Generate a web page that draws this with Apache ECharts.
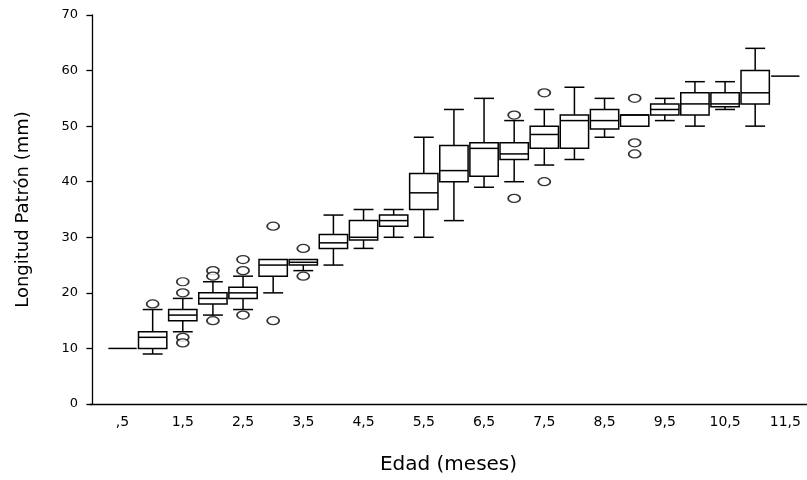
<!DOCTYPE html>
<html>
<head>
<meta charset="utf-8">
<script src="https://cdn.jsdelivr.net/npm/echarts@6/dist/echarts.min.js"></script>
<style>html,body{margin:0;padding:0;background:#fff;}#c{width:807px;height:480px;}</style>
</head>
<body>
<div id="c"></div>
<script>
// Age categories (months)
const ages = [0.5,1,1.5,2,2.5,3,3.5,4,4.5,5,5.5,6,6.5,7,7.5,8,8.5,9,9.5,10,10.5,11,11.5];
// Box statistics (mm)
const whiskerLow  = [10, 9,13,16,17,20,24,25,28,30,30,33,39,40,43,44,48,50,51,50,53,50,59];
const quart1      = [10,10,15,18,19,23,25,28,29.5,32,35,40,41,44,46,46,49.5,50,52,52,53.5,54,59];
const medians     = [10,12,16,19,20,25,25.5,29,30,33,38,42,46,45,48.5,51,51,52,53,54,54,56,59];
const quart3      = [10,13,17,20,21,26,26,30.5,33,34,41.5,46.5,47,47,50,52,53,52,54,56,56,60,59];
const whiskerHigh = [10,17,19,22,23,26,26,34,35,35,48,53,55,51,53,57,55,52,55,58,58,64,59];
// Outliers [age, value]
const outliers = [
  [1,18],
  [1.5,20],[1.5,22],[1.5,12],[1.5,11],
  [2,24],[2,23],[2,15],
  [2.5,24],[2.5,26],[2.5,16],
  [3,32],[3,15],
  [3.5,28],[3.5,23],
  [7,52],[7,37],
  [7.5,56],[7.5,40],
  [9,55],[9,47],[9,45]
];
// Tick labels
const xTickValues = [0.5,1.5,2.5,3.5,4.5,5.5,6.5,7.5,8.5,9.5,10.5,11.5];
const xTickLabels = [',5','1,5','2,5','3,5','4,5','5,5','6,5','7,5','8,5','9,5','10,5','11,5'];
const yTickValues = [0,10,20,30,40,50,60,70];

const boxData = ages.map((a,i)=>[a, whiskerLow[i], quart1[i], medians[i], quart3[i], whiskerHigh[i]]);

const LW = 1.5, INK = '#000';
const chart = echarts.init(document.getElementById('c'), null, {renderer:'canvas'});
chart.setOption({
  animation:false,
  backgroundColor:'#fff',
  grid:{left:90, right:0, top:15, bottom:75},
  xAxis:{
    type:'value', min:-0.04, max:11.86,
    name:'Edad (meses)', nameLocation:'middle', nameGap:51,
    nameTextStyle:{fontFamily:'DejaVu Sans', fontSize:20, color:'#000'},
    axisLine:{show:true, onZero:false, lineStyle:{color:'#000', width:1.3}},
    axisTick:{show:false},
    splitLine:{show:false},
    axisLabel:{
      customValues:xTickValues, margin:11,
      fontFamily:'DejaVu Sans', fontSize:14, color:'#000',
      formatter:(v)=>{const i=xTickValues.findIndex(t=>Math.abs(t-v)<1e-6);return i>=0?xTickLabels[i]:'';}
    }
  },
  yAxis:{
    type:'value', min:0, max:70, interval:10,
    name:'Longitud Patrón (mm)', nameLocation:'middle', nameGap:58,
    nameTextStyle:{fontFamily:'DejaVu Sans', fontSize:18, color:'#000'},
    axisLine:{show:true, lineStyle:{color:'#000', width:1.3}},
    axisTick:{show:true, length:6, lineStyle:{color:'#000', width:1.3}},
    splitLine:{show:false},
    axisLabel:{margin:12, fontFamily:'DejaVu Sans', fontSize:13, color:'#000',
      formatter:(v)=>yTickValues.indexOf(v)>=0?String(v):''}
  },
  series:[
    {
      type:'custom',
      data:boxData,
      encode:{x:0, y:[1,2,3,4,5]},
      renderItem:(params, api)=>{
        const x = api.value(0);
        const lo = api.coord([x, api.value(1)]);
        const q1 = api.coord([x, api.value(2)]);
        const md = api.coord([x, api.value(3)]);
        const q3 = api.coord([x, api.value(4)]);
        const hi = api.coord([x, api.value(5)]);
        const cx = lo[0];
        const bw = api.size([0.47, 0])[0];
        const cw = api.size([0.33, 0])[0];
        const st = {stroke:INK, lineWidth:LW, fill:null};
        const ch = [];
        if (hi[1] < q3[1] - 0.5) {
          ch.push({type:'line', shape:{x1:cx, y1:q3[1], x2:cx, y2:hi[1]}, style:st});
          ch.push({type:'line', shape:{x1:cx-cw/2, y1:hi[1], x2:cx+cw/2, y2:hi[1]}, style:st});
        }
        if (lo[1] > q1[1] + 0.5) {
          ch.push({type:'line', shape:{x1:cx, y1:q1[1], x2:cx, y2:lo[1]}, style:st});
          ch.push({type:'line', shape:{x1:cx-cw/2, y1:lo[1], x2:cx+cw/2, y2:lo[1]}, style:st});
        }
        if (q1[1] - q3[1] > 0.5) {
          ch.push({type:'rect', shape:{x:cx-bw/2, y:q3[1], width:bw, height:q1[1]-q3[1]}, style:{stroke:INK, lineWidth:LW, fill:'#fff'}});
        }
        ch.push({type:'line', shape:{x1:cx-bw/2, y1:md[1], x2:cx+bw/2, y2:md[1]}, style:st});
        return {type:'group', children:ch};
      },
      z:2
    },
    {
      type:'scatter',
      data:outliers,
      symbol:'circle',
      symbolSize:[12,8],
      itemStyle:{color:'#fff', borderColor:INK, borderWidth:1.5},
      z:3
    }
  ]
});
</script>
</body>
</html>
